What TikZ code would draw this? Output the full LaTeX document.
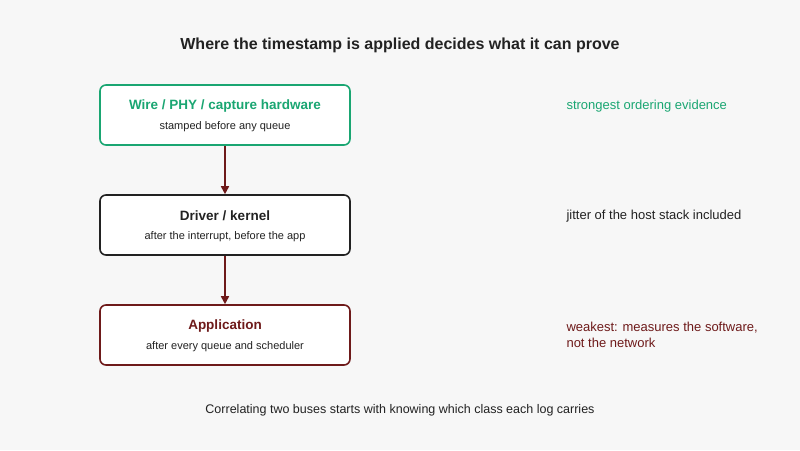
\documentclass[tikz,border=0pt]{standalone}
\usepackage{fontspec}
\setmainfont{Liberation Sans}
\usetikzlibrary{arrows.meta}
\definecolor{grn}{HTML}{1AA672}
\definecolor{dred}{HTML}{6E1A1A}
\definecolor{ink}{HTML}{222222}
\definecolor{bg}{HTML}{F7F7F7}
\begin{document}
\begin{tikzpicture}[x=1pt,y=-1pt,
  box/.style={draw=ink,line width=1.6pt,rounded corners=6pt,fill=white,minimum width=250pt,minimum height=60pt,inner sep=0pt},
  conn/.style={draw=dred,line width=1.6pt,-{Triangle[length=8pt,width=8pt]}},
  note/.style={anchor=west,font=\fontsize{13}{16}\selectfont,align=left}]
\fill[bg] (0,0) rectangle (800,450);
\useasboundingbox (0,0) rectangle (800,450);
\node (title) at (400,45) {\fontsize{16}{19}\selectfont\bfseries\color{ink}Where the timestamp is applied decides what it can prove};
\node[box,draw=grn] (b1) at (225,115) {};
\node[font=\fontsize{13.5}{16}\selectfont\bfseries,text=grn] (t1) at (225,106) {Wire / PHY / capture hardware};
\node[font=\fontsize{11}{13}\selectfont,text=ink] (s1) at (225,127) {stamped before any queue};
\node[box] (b2) at (225,225) {};
\node[font=\fontsize{13.5}{16}\selectfont\bfseries,text=ink] (t2) at (225,216) {Driver / kernel};
\node[font=\fontsize{11}{13}\selectfont,text=ink] (s2) at (225,237) {after the interrupt, before the app};
\node[box,draw=dred] (b3) at (225,335) {};
\node[font=\fontsize{13.5}{16}\selectfont\bfseries,text=dred] (t3) at (225,326) {Application};
\node[font=\fontsize{11}{13}\selectfont,text=ink] (s3) at (225,347) {after every queue and scheduler};
\draw[conn] (b1.south) -- (b2.north);
\draw[conn] (b2.south) -- (b3.north);
\node[note,text=grn] (n1) at (563,106) {strongest ordering evidence};
\node[note,text=ink] (n2) at (563,216) {jitter of the host stack included};
\node[note,text=dred] (n3) at (563,335) {weakest: measures the software,\\not the network};
\node[font=\fontsize{12.5}{15}\selectfont,text=ink] (foot) at (400,410) {Correlating two buses starts with knowing which class each log carries};
\end{tikzpicture}
\end{document}
